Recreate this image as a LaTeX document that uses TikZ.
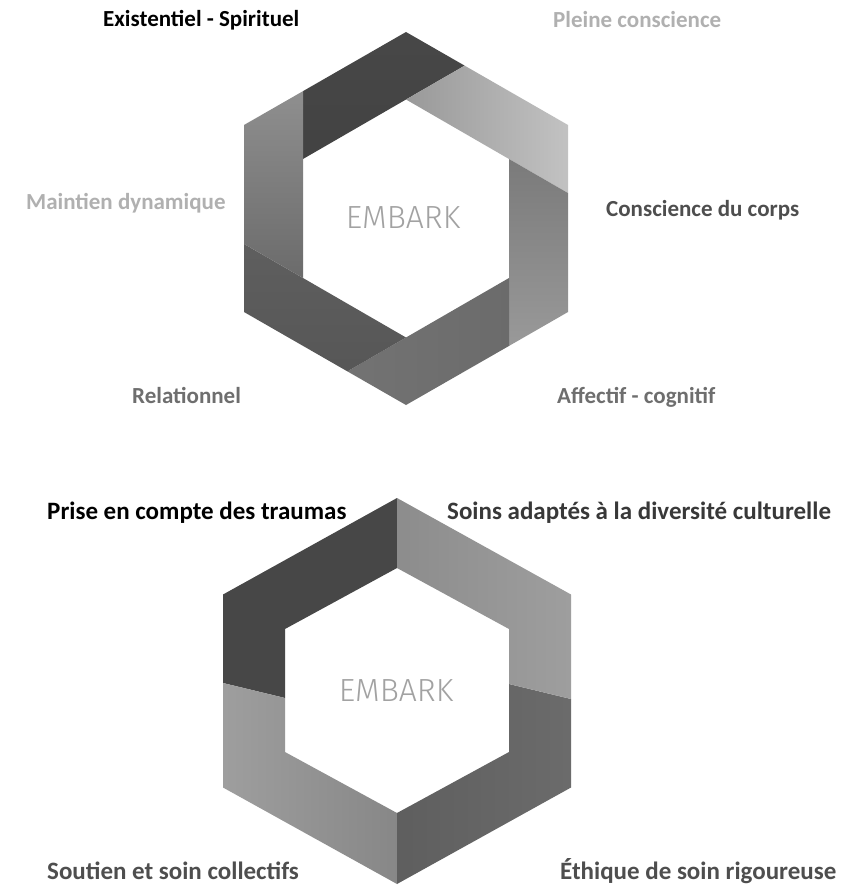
\documentclass[tikz,border=0pt]{standalone}
\usepackage{fontspec}
\newfontfamily\labfont{Carlito}
\newfontfamily\embarkfont{Fira Sans Light}
\definecolor{lablight}{HTML}{B0B0B0}
\definecolor{labdark}{HTML}{4E4E4E}
\definecolor{labmid}{HTML}{6E6E6E}
\definecolor{logogrey}{HTML}{A2A2A2}

\begin{document}
\begin{tikzpicture}[x=1pt, y=-1pt,
  lab/.style={font=\labfont\bfseries\fontsize{23}{27}\selectfont, anchor=west, inner sep=0pt},
  labbig/.style={lab, font=\labfont\bfseries\fontsize{25}{30}\selectfont},
  logo/.style={font=\embarkfont\fontsize{32}{38}\selectfont, text=logogrey, inner sep=0pt}]
\fill[white] (0,0) rectangle (856,886);
% ----- top hexagon: six overlapping strips -----
\foreach \n/\x/\y in {1/244/125, 2/406/32, 3/568/125, 4/568/312, 5/406/405, 6/244/312, 7/244/125, 8/406/32}
  \coordinate (O\n) at (\x,\y);
\foreach \n/\x/\y in {0/303/278, 1/303/159, 2/406/99.5, 3/509/159, 4/509/278, 5/406/337.5, 6/303/278, 7/303/159}
  \coordinate (I\n) at (\x,\y);
\foreach \i/\ca/\cb/\ang in {1/{black!72}/{black!74}/0, 2/{black!40}/{black!24}/90,
    3/{black!52}/{black!40}/0, 4/{black!55}/{black!58}/90,
    5/{black!63}/{black!66}/0, 6/{black!44}/{black!58}/0}{
  \pgfmathtruncatemacro\im{\i-1}
  \pgfmathtruncatemacro\ip{\i+1}
  \pgfmathtruncatemacro\ipp{\i+2}
  \shade[top color=\ca, bottom color=\cb, shading angle=\ang]
    (intersection of {I\im}--{I\i} and {O\i}--{O\ip}) -- (I\i) -- (I\ip)
    -- (intersection of {I\i}--{I\ip} and {O\ip}--{O\ipp}) -- (O\ip) -- cycle;
}
\node[logo] (embarktop) at (403,218) {EMBARK};
% ----- bottom hexagon: four pieces -----
\foreach \n/\x/\y in {top/397/498, ur/571/594.5, lr/571/787.5, bot/397/884, ll/223/787.5, ul/223/594.5}
  \coordinate (B\n) at (\x,\y);
\foreach \n/\x/\y in {top/397/568, ur/509/629, lr/509/752, bot/397/813, ll/285/752, ul/285/629}
  \coordinate (C\n) at (\x,\y);
\coordinate (Lout) at (223,683);
\coordinate (Lin) at (285,698);
\coordinate (Rin) at (509,684);
\coordinate (Rout) at (571,699);
\shade[top color=black!72, bottom color=black!72]
  (Btop) -- (Bul) -- (Lout) -- (Lin) -- (Cul) -- (Ctop) -- cycle;
\shade[left color=black!38, right color=black!47]
  (Lout) -- (Bll) -- (Bbot) -- (Cbot) -- (Cll) -- (Lin) -- cycle;
\shade[left color=black!63, right color=black!58]
  (Bbot) -- (Blr) -- (Rout) -- (Rin) -- (Clr) -- (Cbot) -- cycle;
\shade[left color=black!45, right color=black!38]
  (Rout) -- (Bur) -- (Btop) -- (Ctop) -- (Cur) -- (Rin) -- cycle;
\node[logo] (embarkbot) at (396,691) {EMBARK};
% ----- labels -----
\node[lab, text=black] (exist) at (103,20) {Existentiel - Spirituel};
\node[lab, text=lablight] (pleine) at (553,20) {Pleine conscience};
\node[lab, text=lablight] (maintien) at (26,203) {Maintien dynamique};
\node[lab, text=labdark] (corps) at (606,210) {Conscience du corps};
\node[lab, text=labmid] (relation) at (132,395) {Relationnel};
\node[lab, text=labmid] (affectif) at (557,397) {Affectif - cognitif};
\node[labbig, text=black] (traumas) at (47,513) {Prise en compte des traumas};
\node[labbig, text=black!78] (soins) at (447,513) {Soins adaptés à la diversité culturelle};
\node[labbig, text=labdark] (soutien) at (47,871) {Soutien et soin collectifs};
\node[labbig, text=labdark] (ethique) at (560,871) {Éthique de soin rigoureuse};
\end{tikzpicture}
\end{document}
